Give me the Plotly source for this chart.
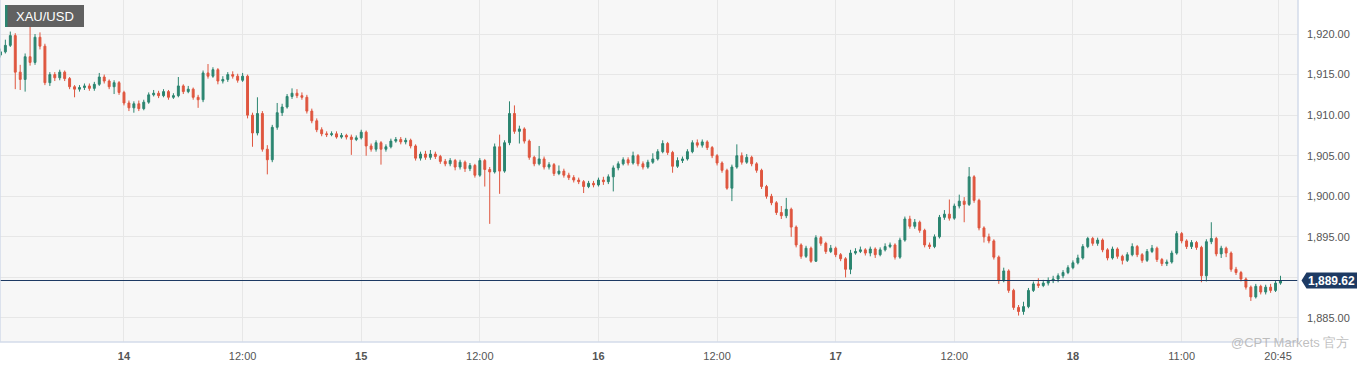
import plotly.graph_objects as go
import pandas as pd

# ---------------- data (30-minute XAU/USD candles) ----------------
open_ = [
    1917.4, 1917.8, 1918.6, 1919.8, 1915.3, 1914.4, 1917.2, 1916.5, 1919.6, 1918.5,
    1914.0, 1915.0, 1914.6, 1915.3, 1914.5, 1913.5, 1913.2, 1913.4, 1913.6, 1913.3,
    1913.8, 1914.7, 1914.2, 1913.5, 1914.0, 1912.8, 1911.5, 1910.9, 1911.4, 1910.8,
    1911.6, 1912.5, 1912.7, 1912.4, 1912.9, 1912.2, 1912.4, 1913.6, 1912.9, 1913.2,
    1912.2, 1911.9, 1915.2, 1914.8, 1915.6, 1914.2, 1914.4, 1915.0, 1914.8, 1914.3,
    1914.8, 1910.0, 1907.8, 1910.2, 1905.8, 1904.5, 1908.5, 1910.3, 1911.0, 1912.3,
    1912.7, 1912.4, 1912.2, 1910.5, 1909.3, 1908.2, 1907.7, 1907.6, 1907.7, 1907.3,
    1907.5, 1907.3, 1907.0, 1907.2, 1907.9, 1906.2, 1905.8, 1906.6, 1905.8, 1906.1,
    1906.8, 1907.0, 1906.7, 1906.9, 1906.2, 1904.7, 1905.2, 1904.8, 1905.2, 1904.9,
    1904.3, 1904.0, 1904.4, 1903.6, 1904.2, 1903.4, 1903.8, 1902.6, 1904.4, 1903.3,
    1903.0, 1906.1, 1903.1, 1906.6, 1910.2, 1908.0, 1908.3, 1906.8, 1904.8, 1904.0,
    1904.6, 1903.6, 1903.9, 1902.8, 1903.1, 1902.6, 1902.3, 1902.0, 1901.8, 1901.2,
    1901.6, 1901.4, 1902.0, 1901.8, 1902.4, 1903.5, 1904.0, 1904.5, 1904.1, 1905.0,
    1904.0, 1903.6, 1904.2, 1904.6, 1905.5, 1906.5, 1905.4, 1903.7, 1904.4, 1904.6,
    1905.5, 1906.6, 1906.3, 1906.7, 1906.0, 1905.0, 1904.1, 1903.2, 1901.0, 1903.6,
    1905.0, 1904.2, 1904.8, 1904.0, 1903.2, 1901.2, 1900.0, 1899.2, 1898.0, 1897.6,
    1898.4, 1896.2, 1894.0, 1892.6, 1893.6, 1892.0, 1894.9, 1894.2, 1893.2, 1893.6,
    1892.8, 1892.3, 1891.0, 1893.0, 1893.2, 1893.4, 1893.0, 1893.5, 1892.8, 1893.4,
    1893.8, 1894.0, 1892.5, 1894.6, 1897.2, 1896.3, 1896.8, 1895.8, 1894.0, 1893.8,
    1895.0, 1897.4, 1897.8, 1897.3, 1898.8, 1899.4, 1899.0, 1902.4, 1899.5, 1896.1,
    1895.0, 1894.5, 1892.5, 1889.6, 1890.8, 1888.4, 1886.3, 1885.8, 1886.4, 1888.4,
    1889.2, 1889.0, 1889.3, 1889.6, 1889.8, 1890.2, 1890.6, 1891.2, 1891.8, 1892.4,
    1893.8, 1894.8, 1894.2, 1894.6, 1893.4, 1892.4, 1893.5, 1892.6, 1892.1, 1892.8,
    1893.8, 1892.8, 1892.1, 1893.2, 1893.6, 1892.2, 1891.7, 1891.9, 1893.0, 1895.4,
    1894.5, 1893.8, 1894.3, 1893.7, 1890.2, 1894.4, 1894.8, 1892.9, 1893.6, 1893.0,
    1891.0, 1890.6, 1889.8, 1888.8, 1887.6, 1888.9, 1888.2, 1888.8, 1888.4, 1889.3,
]
high = [
    1918.2, 1919.3, 1920.3, 1920.1, 1916.2, 1917.6, 1920.9, 1920.0, 1920.2, 1918.8,
    1915.3, 1915.3, 1915.6, 1915.5, 1914.7, 1913.7, 1913.7, 1913.9, 1913.9, 1914.1,
    1915.2, 1915.0, 1914.4, 1914.3, 1914.2, 1913.0, 1911.8, 1911.7, 1911.8, 1911.9,
    1912.8, 1913.1, 1913.0, 1913.2, 1913.1, 1912.7, 1914.7, 1913.8, 1913.6, 1913.4,
    1912.5, 1915.5, 1916.3, 1915.9, 1915.8, 1914.8, 1915.3, 1915.4, 1915.1, 1915.2,
    1915.0, 1910.3, 1912.2, 1910.5, 1906.3, 1908.8, 1911.5, 1911.4, 1912.6, 1913.3,
    1913.2, 1912.8, 1912.5, 1910.8, 1909.6, 1908.5, 1908.0, 1908.0, 1908.0, 1907.8,
    1907.7, 1907.6, 1907.5, 1908.2, 1908.1, 1906.5, 1906.9, 1906.8, 1906.4, 1907.1,
    1907.3, 1907.3, 1907.2, 1907.1, 1906.4, 1905.5, 1905.6, 1905.7, 1905.5, 1905.1,
    1904.6, 1904.7, 1904.6, 1904.5, 1904.4, 1904.1, 1904.0, 1904.7, 1904.6, 1903.6,
    1906.5, 1907.6, 1906.9, 1911.7, 1911.2, 1908.7, 1908.5, 1907.0, 1905.0, 1906.2,
    1904.9, 1904.2, 1904.1, 1903.8, 1903.4, 1902.9, 1902.6, 1902.3, 1902.0, 1901.9,
    1901.9, 1902.3, 1902.4, 1902.7, 1903.8, 1904.3, 1904.8, 1904.8, 1905.5, 1905.2,
    1904.3, 1904.5, 1905.3, 1905.8, 1906.9, 1906.7, 1905.6, 1904.8, 1904.9, 1905.8,
    1906.9, 1907.0, 1907.0, 1906.9, 1906.2, 1905.2, 1904.3, 1903.4, 1903.9, 1906.4,
    1905.4, 1905.2, 1905.0, 1904.2, 1903.4, 1901.4, 1900.3, 1899.4, 1898.8, 1899.8,
    1898.6, 1896.4, 1894.2, 1893.9, 1893.8, 1895.2, 1895.1, 1894.4, 1894.0, 1893.8,
    1893.0, 1892.5, 1893.4, 1893.6, 1893.8, 1893.6, 1893.8, 1893.7, 1893.7, 1894.2,
    1894.3, 1894.2, 1894.9, 1897.5, 1897.6, 1897.2, 1897.0, 1896.0, 1894.3, 1895.3,
    1897.7, 1898.3, 1899.6, 1899.1, 1900.2, 1899.9, 1903.6, 1902.6, 1899.7, 1896.3,
    1895.4, 1894.7, 1892.7, 1891.2, 1891.0, 1888.6, 1886.6, 1887.0, 1888.7, 1889.5,
    1889.9, 1889.7, 1890.0, 1890.2, 1890.5, 1890.9, 1891.5, 1892.1, 1892.8, 1894.1,
    1895.0, 1895.0, 1894.9, 1894.8, 1893.6, 1893.8, 1893.7, 1892.8, 1893.1, 1894.2,
    1894.0, 1893.0, 1893.5, 1894.0, 1893.8, 1892.4, 1892.2, 1893.3, 1895.7, 1895.6,
    1894.7, 1894.6, 1894.5, 1893.9, 1894.7, 1896.8, 1895.0, 1893.9, 1893.8, 1893.2,
    1891.3, 1890.8, 1890.0, 1889.0, 1889.2, 1889.1, 1889.1, 1889.2, 1889.6, 1890.2,
]
low = [
    1917.1, 1917.6, 1918.4, 1913.2, 1913.1, 1912.9, 1916.1, 1916.2, 1918.1, 1913.7,
    1913.6, 1914.2, 1914.3, 1914.2, 1913.2, 1912.2, 1912.9, 1913.1, 1913.0, 1913.0,
    1913.6, 1913.9, 1913.2, 1912.6, 1912.5, 1911.2, 1910.5, 1910.3, 1910.5, 1910.6,
    1911.4, 1912.3, 1912.1, 1912.2, 1911.9, 1912.0, 1912.2, 1912.6, 1912.7, 1911.9,
    1910.9, 1911.6, 1914.5, 1914.6, 1913.8, 1913.9, 1914.1, 1914.5, 1914.0, 1914.1,
    1909.6, 1906.1, 1907.5, 1905.5, 1902.7, 1904.2, 1908.2, 1909.9, 1910.8, 1912.0,
    1912.1, 1911.9, 1910.2, 1909.0, 1907.9, 1907.4, 1907.3, 1907.4, 1907.1, 1907.1,
    1907.0, 1905.1, 1906.8, 1907.0, 1905.0, 1905.5, 1905.5, 1903.9, 1905.5, 1905.9,
    1906.6, 1906.4, 1906.4, 1905.9, 1904.4, 1904.4, 1904.5, 1904.5, 1904.6, 1904.0,
    1903.7, 1903.7, 1903.2, 1903.3, 1903.0, 1903.1, 1902.3, 1902.4, 1901.2, 1896.6,
    1902.8, 1900.3, 1902.9, 1906.3, 1907.7, 1906.5, 1906.5, 1904.5, 1903.7, 1903.8,
    1903.3, 1903.3, 1902.5, 1902.6, 1902.3, 1902.0, 1901.7, 1901.5, 1900.4, 1901.0,
    1901.1, 1901.2, 1901.4, 1901.5, 1900.6, 1903.2, 1903.8, 1903.8, 1903.9, 1903.7,
    1903.3, 1903.4, 1904.0, 1904.4, 1905.3, 1905.1, 1902.9, 1903.5, 1904.1, 1904.4,
    1905.3, 1906.0, 1906.0, 1905.7, 1904.7, 1903.8, 1902.9, 1900.8, 1899.4, 1903.4,
    1903.9, 1904.0, 1903.7, 1902.9, 1900.9, 1899.7, 1898.9, 1897.7, 1897.2, 1897.3,
    1895.0, 1893.7, 1892.3, 1892.4, 1891.8, 1891.9, 1893.9, 1892.9, 1893.0, 1892.5,
    1892.0, 1890.0, 1890.4, 1892.8, 1893.0, 1892.7, 1892.6, 1892.4, 1892.6, 1893.2,
    1893.6, 1892.2, 1892.3, 1894.4, 1896.0, 1896.0, 1895.5, 1893.7, 1893.5, 1893.6,
    1894.8, 1897.1, 1897.0, 1897.1, 1898.5, 1896.8, 1898.8, 1899.2, 1895.8, 1894.3,
    1894.2, 1892.2, 1889.2, 1889.4, 1888.1, 1886.0, 1885.3, 1885.4, 1886.2, 1888.2,
    1888.7, 1888.8, 1889.0, 1889.3, 1889.4, 1889.9, 1890.4, 1891.0, 1891.6, 1892.2,
    1893.6, 1893.9, 1893.9, 1893.1, 1892.1, 1892.2, 1892.3, 1891.6, 1891.9, 1892.6,
    1892.5, 1891.8, 1891.9, 1893.0, 1891.9, 1891.4, 1891.4, 1891.7, 1892.8, 1894.2,
    1893.5, 1893.5, 1893.4, 1889.4, 1889.5, 1894.1, 1892.6, 1892.4, 1892.5, 1890.7,
    1890.3, 1889.5, 1888.5, 1887.1, 1887.4, 1887.9, 1887.9, 1888.1, 1888.2, 1889.1,
]
close = [
    1917.8, 1918.6, 1919.8, 1915.3, 1914.4, 1917.2, 1916.5, 1919.6, 1918.5, 1914.0,
    1915.0, 1914.6, 1915.3, 1914.5, 1913.5, 1913.2, 1913.4, 1913.6, 1913.3, 1913.8,
    1914.7, 1914.2, 1913.5, 1914.0, 1912.8, 1911.5, 1910.9, 1911.4, 1910.8, 1911.6,
    1912.5, 1912.7, 1912.4, 1912.9, 1912.2, 1912.4, 1913.6, 1912.9, 1913.2, 1912.2,
    1911.9, 1915.2, 1914.8, 1915.6, 1914.2, 1914.4, 1915.0, 1914.8, 1914.3, 1914.8,
    1910.0, 1907.8, 1910.2, 1905.8, 1904.5, 1908.5, 1910.3, 1911.0, 1912.3, 1912.7,
    1912.4, 1912.2, 1910.5, 1909.3, 1908.2, 1907.7, 1907.6, 1907.7, 1907.3, 1907.5,
    1907.3, 1907.0, 1907.2, 1907.9, 1906.2, 1905.8, 1906.6, 1905.8, 1906.1, 1906.8,
    1907.0, 1906.7, 1906.9, 1906.2, 1904.7, 1905.2, 1904.8, 1905.2, 1904.9, 1904.3,
    1904.0, 1904.4, 1903.6, 1904.2, 1903.4, 1903.8, 1902.6, 1904.4, 1903.3, 1903.0,
    1906.1, 1903.1, 1906.6, 1910.2, 1908.0, 1908.3, 1906.8, 1904.8, 1904.0, 1904.6,
    1903.6, 1903.9, 1902.8, 1903.1, 1902.6, 1902.3, 1902.0, 1901.8, 1901.2, 1901.6,
    1901.4, 1902.0, 1901.8, 1902.4, 1903.5, 1904.0, 1904.5, 1904.1, 1905.0, 1904.0,
    1903.6, 1904.2, 1904.6, 1905.5, 1906.5, 1905.4, 1903.7, 1904.4, 1904.6, 1905.5,
    1906.6, 1906.3, 1906.7, 1906.0, 1905.0, 1904.1, 1903.2, 1901.0, 1903.6, 1905.0,
    1904.2, 1904.8, 1904.0, 1903.2, 1901.2, 1900.0, 1899.2, 1898.0, 1897.6, 1898.4,
    1896.2, 1894.0, 1892.6, 1893.6, 1892.0, 1894.9, 1894.2, 1893.2, 1893.6, 1892.8,
    1892.3, 1891.0, 1893.0, 1893.2, 1893.4, 1893.0, 1893.5, 1892.8, 1893.4, 1893.8,
    1894.0, 1892.5, 1894.6, 1897.2, 1896.3, 1896.8, 1895.8, 1894.0, 1893.8, 1895.0,
    1897.4, 1897.8, 1897.3, 1898.8, 1899.4, 1899.0, 1902.4, 1899.5, 1896.1, 1895.0,
    1894.5, 1892.5, 1889.6, 1890.8, 1888.4, 1886.3, 1885.8, 1886.4, 1888.4, 1889.2,
    1889.0, 1889.3, 1889.6, 1889.8, 1890.2, 1890.6, 1891.2, 1891.8, 1892.4, 1893.8,
    1894.8, 1894.2, 1894.6, 1893.4, 1892.4, 1893.5, 1892.6, 1892.1, 1892.8, 1893.8,
    1892.8, 1892.1, 1893.2, 1893.6, 1892.2, 1891.7, 1891.9, 1893.0, 1895.4, 1894.5,
    1893.8, 1894.3, 1893.7, 1890.2, 1894.4, 1894.8, 1892.9, 1893.6, 1893.0, 1891.0,
    1890.6, 1889.8, 1888.8, 1887.6, 1888.9, 1888.2, 1888.8, 1888.4, 1889.3, 1889.62,
]
times = pd.date_range("2023-08-13 11:30", periods=len(close), freq="30min")

symbol = "XAU/USD"
y_ticks = [1885, 1890, 1895, 1900, 1905, 1910, 1915, 1920]
# the 1,890.00 label sits under the last-price tag in the reference, so it is left blank
y_tick_text = ["1,885.00", "", "1,895.00", "1,900.00", "1,905.00", "1,910.00", "1,915.00", "1,920.00"]
x_tick_times = ["2023-08-14 00:00", "2023-08-14 12:00", "2023-08-15 00:00", "2023-08-15 12:00",
                "2023-08-16 00:00", "2023-08-16 12:00", "2023-08-17 00:00", "2023-08-17 12:00",
                "2023-08-18 00:00", "2023-08-18 11:00", "2023-08-18 20:45"]
x_tick_text = ["<b>14</b>", "12:00", "<b>15</b>", "12:00", "<b>16</b>", "12:00",
               "<b>17</b>", "12:00", "<b>18</b>", "11:00", "20:45"]
watermark = "@CPT Markets 官方"

# ---------------- styling ----------------
UP = "#2b8570"
DOWN = "#df563f"
NAVY = "#1d3a63"
GRID = "#e7e7e7"
BORDER = "#d3dbea"
FONT = "Arial, Liberation Sans, sans-serif"

W, H = 1369, 368
PW, PH = 1298, 342  # plot area in px

fig = go.Figure(go.Candlestick(
    x=times, open=open_, high=high, low=low, close=close,
    increasing=dict(line=dict(color=UP, width=1), fillcolor=UP),
    decreasing=dict(line=dict(color=DOWN, width=1), fillcolor=DOWN),
    whiskerwidth=0, hoverinfo="x+y",
))

last = close[-1]
yr = [1882.04, 1924.19]
upp = (yr[1] - yr[0]) / PH  # price units per pixel

shapes = [
    # last price line
    dict(type="line", xref="paper", yref="y", x0=0, x1=1, y0=last, y1=last,
         line=dict(color=NAVY, width=1.2), layer="above"),
    # price tag with arrow
    dict(type="path", xref="paper", yref="y",
         path=(f"M {1301.5/PW},{last} L {1306.5/PW},{last + 8*upp} L {1357/PW},{last + 8*upp} "
               f"L {1357/PW},{last - 8*upp} L {1306.5/PW},{last - 8*upp} Z"),
         fillcolor=NAVY, line=dict(width=0), layer="above"),
    # symbol box
    dict(type="rect", xref="paper", yref="paper", x0=5/PW, x1=84/PW, y0=1-27/PH, y1=1-5/PH,
         fillcolor="rgba(80,80,80,0.9)", line=dict(width=0), layer="above"),
    dict(type="rect", xref="paper", yref="paper", x0=5/PW, x1=7.5/PW, y0=1-27/PH, y1=1-5/PH,
         fillcolor=UP, line=dict(width=0), layer="above"),
    # borders
    dict(type="line", xref="paper", yref="paper", x0=0, x1=0, y0=0, y1=1,
         line=dict(color=BORDER, width=1.5)),
    dict(type="line", xref="paper", yref="paper", x0=0, x1=1, y0=0, y1=0,
         line=dict(color=BORDER, width=1.5)),
    dict(type="line", xref="paper", yref="paper", x0=1, x1=1, y0=0, y1=1,
         line=dict(color=BORDER, width=1.5)),
]

annotations = [
    dict(xref="paper", yref="y", x=(1306.5 + 1357) / 2 / PW, y=last,
         text=f"<b>{last:,.2f}</b>", showarrow=False,
         font=dict(family=FONT, size=12, color="white"), xanchor="center", yanchor="middle"),
    dict(xref="paper", yref="paper", x=44.5/PW, y=1-16/PH, text=symbol, showarrow=False,
         font=dict(family=FONT, size=13, color="white"), xanchor="center", yanchor="middle"),
    dict(xref="paper", yref="paper", x=1290/PW, y=0/PH, text=watermark, showarrow=False,
         font=dict(family=FONT, size=13, color="rgba(170,170,170,0.75)"),
         xanchor="center", yanchor="middle"),
]

fig.update_layout(
    width=W, height=H,
    margin=dict(l=0, r=W - PW, t=0, b=H - PH, pad=0),
    paper_bgcolor="white", plot_bgcolor="#f7f7f7",
    showlegend=False, boxgap=0.45,
    font=dict(family=FONT, size=11, color="#555"),
    shapes=shapes, annotations=annotations,
    xaxis=dict(
        range=["2023-08-13 11:27:24", "2023-08-18 22:46:12"],
        rangeslider=dict(visible=False),
        tickvals=x_tick_times, ticktext=x_tick_text,
        showgrid=True, gridcolor=GRID, gridwidth=1,
        zeroline=False, showline=False, ticks="",
        ticklabelstandoff=6,
        tickfont=dict(family=FONT, size=11, color="#555"),
        fixedrange=True,
    ),
    yaxis=dict(
        side="right", range=yr,
        tickvals=y_ticks, ticktext=y_tick_text,
        showgrid=True, gridcolor=GRID, gridwidth=1,
        zeroline=False, showline=False, ticks="",
        ticklabelstandoff=8,
        tickfont=dict(family=FONT, size=11, color="#555"),
        fixedrange=True,
    ),
)

fig.write_html("out.html", config={"displayModeBar": False},
               post_script="document.body.style.margin='0px';document.body.style.padding='0px';")
